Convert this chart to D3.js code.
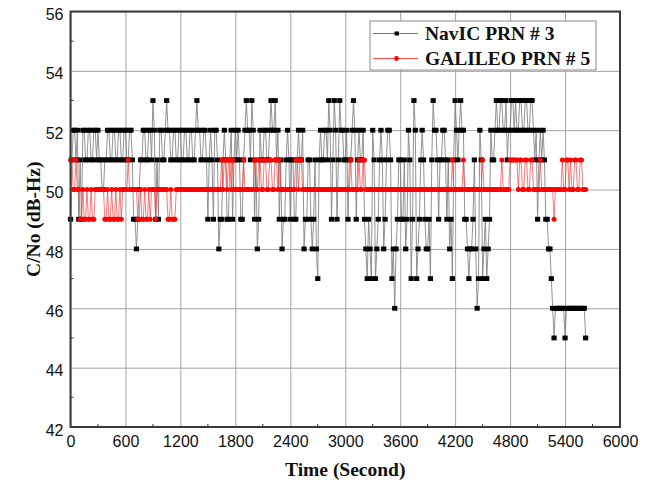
<!DOCTYPE html>
<html>
<head>
<meta charset="utf-8">
<script src="https://cdn.jsdelivr.net/npm/d3@7"></script>
<style>
  body { margin: 0; background: #fff; }
  svg { display: block; }
</style>
</head>
<body>
<svg id="chart" width="646" height="481"></svg>
<script>
// Carrier-to-noise density of two satellites, one sample every 15 s.
const sampleStep = 15;

const navicCN0 = [
  49,51,52,52,51,52,49,51,49,52,52,51,51,52,52,51,51,52,52,51,
  52,51,51,50,50,51,51,52,52,51,51,52,52,51,51,52,52,51,51,52,
  52,51,51,52,52,51,49,49,48,49,50,51,51,52,52,51,51,52,52,51,
  53,52,49,51,49,52,52,51,51,52,53,52,52,51,51,52,52,51,51,52,
  52,51,51,52,52,51,51,52,52,51,51,52,53,52,52,51,51,52,52,51,
  49,51,52,51,49,52,52,51,48,49,49,51,52,51,49,49,51,52,49,51,
  52,51,52,51,49,49,51,52,53,52,52,51,53,52,49,51,48,49,52,51,
  51,52,52,51,51,52,53,52,52,53,51,52,49,51,48,49,49,51,52,51,
  49,51,51,49,49,51,52,51,51,52,48,49,49,51,51,49,48,49,51,48,
  47,51,52,51,51,52,52,51,53,52,49,51,53,52,49,51,53,52,52,51,
  51,52,49,51,51,52,53,52,49,51,52,51,51,52,49,48,47,49,48,47,
  52,51,47,48,49,51,52,51,48,49,51,52,52,51,47,48,46,48,49,51,
  51,49,49,51,48,49,52,51,47,49,53,52,47,48,49,51,52,51,49,48,
  48,49,47,51,53,52,52,51,49,51,51,52,52,51,49,51,48,49,47,51,
  53,52,51,52,53,52,52,49,49,48,47,48,48,49,51,48,46,47,52,51,
  47,48,49,47,48,49,52,51,51,52,53,52,52,53,53,52,52,53,51,52,
  52,53,53,52,53,52,52,53,53,52,52,53,53,52,52,53,53,52,51,52,
  49,51,52,51,52,51,49,49,48,48,47,46,45,46,46,46,46,46,46,46,
  45,46,46,46,46,46,46,46,46,46,46,46,46,46,46,45
];

const galileoCN0 = [
  51,51,50,50,51,50,50,49,49,50,49,49,50,49,49,50,49,49,50,50,
  50,50,50,50,50,49,49,50,49,49,50,49,49,50,49,49,50,49,50,50,
  50,50,51,50,50,50,50,50,50,49,49,50,49,49,50,49,49,50,49,50,
  50,50,49,50,50,50,50,50,50,50,50,49,49,50,49,49,49,50,50,50,
  50,50,50,50,50,50,50,50,50,50,50,50,50,50,50,50,50,50,50,50,
  50,50,50,50,50,50,50,50,50,50,51,50,51,51,50,51,51,50,51,50,
  50,50,50,50,50,50,51,50,50,50,50,50,50,50,51,50,50,51,51,50,
  50,51,51,50,50,51,51,50,50,51,51,50,51,50,50,50,50,50,50,50,
  50,50,50,50,51,51,50,51,51,50,50,50,50,50,50,50,50,50,50,50,
  50,50,50,50,50,50,50,50,50,50,50,50,50,50,50,50,50,50,50,50,
  50,50,50,50,51,50,50,50,50,50,51,50,50,51,51,50,50,50,50,50,
  50,50,50,50,50,50,50,50,50,50,50,50,50,50,50,50,50,50,50,50,
  50,50,50,50,50,50,50,50,50,50,50,50,50,50,50,50,50,50,50,50,
  50,50,50,50,50,50,50,50,50,50,50,50,50,50,50,50,50,50,51,50,
  50,50,50,50,50,50,51,50,50,50,50,50,50,50,50,50,50,50,50,50,
  51,50,50,50,50,50,50,50,50,50,50,50,50,50,51,50,50,50,50,50,
  51,51,51,51,51,51,50,51,51,50,50,51,51,50,50,51,51,50,50,50,
  50,50,51,50,50,50,50,50,50,50,50,50,49,50,50,50,50,50,51,50,
  50,51,51,50,51,50,50,51,51,50,50,51,51,50,50,50
];

const seriesNames = ["NavIC PRN # 3", "GALILEO PRN # 5"];
const xTicks = [0, 600, 1200, 1800, 2400, 3000, 3600, 4200, 4800, 5400, 6000];
const xMinorTicks = [300, 900, 1500, 2100, 2700, 3300, 3900, 4500, 5100, 5700];
const yTicks = [42, 44, 46, 48, 50, 52, 54, 56];
const yMinorTicks = [43, 45, 47, 49, 51, 53, 55];
const xTitle = "Time (Second)";
const yTitle = "C/No (dB-Hz)";

const svg = d3.select("#chart");
const plot = { left: 70.5, right: 620, top: 11.5, bottom: 427 };

const x = d3.scaleLinear().domain([0, 6000]).range([plot.left, plot.right]);
const y = d3.scaleLinear().domain([42, 56]).range([plot.bottom, plot.top]);

const toPoints = arr => arr.map((v, i) => ({ t: i * sampleStep, v }));
const navic = toPoints(navicCN0);
const galileo = toPoints(galileoCN0);

// grid
const grid = svg.append("g").attr("class", "grid");
grid.append("g")
  .attr("transform", `translate(0,${plot.bottom})`)
  .call(d3.axisBottom(x).tickValues(xTicks).tickSize(-(plot.bottom - plot.top)).tickFormat(""))
  .call(g => g.select(".domain").remove())
  .call(g => g.selectAll("line").attr("stroke", "#a3a3a3").attr("stroke-width", 1));
grid.append("g")
  .attr("transform", `translate(${plot.left},0)`)
  .call(d3.axisLeft(y).tickValues(yTicks).tickSize(-(plot.right - plot.left)).tickFormat(""))
  .call(g => g.select(".domain").remove())
  .call(g => g.selectAll("line").attr("stroke", "#a3a3a3").attr("stroke-width", 1));

// minor ticks
svg.append("g").selectAll("line").data(xMinorTicks).join("line")
  .attr("x1", d => x(d)).attr("x2", d => x(d))
  .attr("y1", plot.bottom).attr("y2", plot.bottom - 3)
  .attr("stroke", "#333").attr("stroke-width", 1);
svg.append("g").selectAll("line").data(yMinorTicks).join("line")
  .attr("x1", plot.left).attr("x2", plot.left + 3)
  .attr("y1", d => y(d)).attr("y2", d => y(d))
  .attr("stroke", "#333").attr("stroke-width", 1);

// series
const line = d3.line().x(d => x(d.t)).y(d => y(d.v));

function drawSeries(data, lineColor, lineOpacity, lineWidth, markerColor, shape) {
  const g = svg.append("g");
  g.append("path").datum(data)
    .attr("d", line)
    .attr("fill", "none")
    .attr("stroke", lineColor)
    .attr("stroke-opacity", lineOpacity)
    .attr("stroke-width", lineWidth);
  if (shape === "square") {
    g.selectAll("rect").data(data).join("rect")
      .attr("x", d => x(d.t) - 2.6).attr("y", d => y(d.v) - 2.4)
      .attr("width", 5.2).attr("height", 4.8)
      .attr("fill", markerColor);
  } else {
    g.selectAll("circle").data(data).join("circle")
      .attr("cx", d => x(d.t)).attr("cy", d => y(d.v)).attr("r", 2.5)
      .attr("fill", markerColor);
  }
}

drawSeries(navic, "#808080", 0.85, 1, "#000", "square");
drawSeries(galileo, "#ff2a2a", 0.7, 0.9, "#ff0000", "circle");

// frame
svg.append("rect")
  .attr("x", plot.left).attr("y", plot.top)
  .attr("width", plot.right - plot.left).attr("height", plot.bottom - plot.top)
  .attr("fill", "none").attr("stroke", "#3a3a3a").attr("stroke-width", 2);

// axes labels
const tickFont = "'Liberation Sans', Arial, sans-serif";
svg.append("g")
  .attr("transform", `translate(0,${plot.bottom})`)
  .call(d3.axisBottom(x).tickValues(xTicks).tickSize(0).tickPadding(9).tickFormat(d3.format("d")))
  .call(g => g.select(".domain").remove())
  .call(g => g.selectAll("text").attr("font-family", tickFont).attr("font-size", 16).attr("fill", "#111"));

svg.append("g")
  .attr("transform", `translate(${plot.left},0)`)
  .call(d3.axisLeft(y).tickValues(yTicks).tickSize(0).tickPadding(7).tickFormat(d3.format("d")))
  .call(g => g.select(".domain").remove())
  .call(g => g.selectAll("text").attr("font-family", tickFont).attr("font-size", 16).attr("fill", "#111")
    .attr("transform", "translate(0,3)"));

const titleFont = "'Liberation Serif', 'Times New Roman', serif";
svg.append("text")
  .attr("x", (plot.left + plot.right) / 2).attr("y", 476)
  .attr("text-anchor", "middle")
  .attr("font-family", titleFont).attr("font-weight", "bold").attr("font-size", 19.5)
  .attr("fill", "#111")
  .text(xTitle);

svg.append("text")
  .attr("transform", `translate(40,${(plot.top + plot.bottom) / 2}) rotate(-90)`)
  .attr("text-anchor", "middle")
  .attr("font-family", titleFont).attr("font-weight", "bold").attr("font-size", 19.5)
  .attr("fill", "#111")
  .text(yTitle);

// legend
const legend = svg.append("g");
legend.append("rect")
  .attr("x", 370).attr("y", 21).attr("width", 226).attr("height", 49)
  .attr("fill", "#fff").attr("stroke", "#8a8a8a").attr("stroke-width", 1);

const legendRows = [
  { name: seriesNames[0], line: "#777", marker: "#000", shape: "square", cy: 33.5 },
  { name: seriesNames[1], line: "#ff4d4d", marker: "#ff0000", shape: "circle", cy: 58.5 }
];
legendRows.forEach(r => {
  legend.append("line")
    .attr("x1", 373).attr("x2", 418).attr("y1", r.cy).attr("y2", r.cy)
    .attr("stroke", r.line).attr("stroke-width", 1);
  if (r.shape === "square") {
    legend.append("rect").attr("x", 394.5).attr("y", r.cy - 2).attr("width", 4.5).attr("height", 4).attr("fill", r.marker);
  } else {
    legend.append("circle").attr("cx", 396.5).attr("cy", r.cy).attr("r", 2.4).attr("fill", r.marker);
  }
  legend.append("text")
    .attr("x", 425).attr("y", r.cy + 6.6)
    .attr("font-family", titleFont).attr("font-weight", "bold").attr("font-size", 19.5)
    .attr("fill", "#111")
    .text(r.name);
});
</script>
</body>
</html>
